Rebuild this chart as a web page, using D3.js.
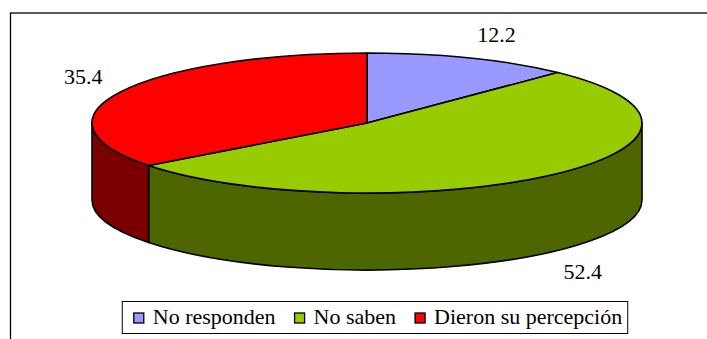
<!DOCTYPE html>
<html>
<head>
<meta charset="utf-8">
<script src="https://cdn.jsdelivr.net/npm/d3@7"></script>
</head>
<body style="margin:0">
<svg id="chart" width="707" height="339" font-family="Liberation Serif, Times New Roman, serif"></svg>
<script>
// Survey answers (percent)
const categories = ["No responden", "No saben", "Dieron su percepción"];
const values = [12.2, 52.4, 35.4];
const topColors = ["#9999FF", "#99CC00", "#FF0000"];
const sideColors = ["#4C4C80", "#4D6600", "#7A0000"];

const FS = 22;
const W = 707, H = 339;
const svg = d3.select("#chart");

// Chart frame (extends past the window on the right and bottom)
svg.append("rect")
  .attr("x", 10.5).attr("y", 13)
  .attr("width", W + 20).attr("height", H + 20)
  .attr("fill", "#fff")
  .attr("stroke", "#000").attr("stroke-width", 1.3);

// Elliptical 3D pie geometry
const cx = 367, cy = 123, rx = 275, ry = 70, depth = 77;
const topPt = a => [cx + rx * Math.sin(a), cy - ry * Math.cos(a)];
const botPt = a => [cx + rx * Math.sin(a), cy - ry * Math.cos(a) + depth];

const pie = d3.pie().sort(null).value(d => d.value);
const arcs = pie(categories.map((c, i) => ({ name: c, value: values[i], i })));

const gSide = svg.append("g");
const gTop = svg.append("g");

// Front walls: visible where the rim faces the viewer (angles between π/2 and 3π/2)
arcs.forEach(d => {
  const a0 = Math.max(d.startAngle, Math.PI / 2);
  const a1 = Math.min(d.endAngle, 3 * Math.PI / 2);
  if (a1 <= a0) return;
  const large = (a1 - a0) > Math.PI ? 1 : 0;
  const [x0, y0] = topPt(a0), [x1, y1] = topPt(a1);
  const [bx0, by0] = botPt(a0), [bx1, by1] = botPt(a1);
  const p = `M${x0},${y0} A${rx},${ry} 0 ${large} 1 ${x1},${y1} L${bx1},${by1} A${rx},${ry} 0 ${large} 0 ${bx0},${by0} Z`;
  gSide.append("path")
    .attr("d", p)
    .attr("fill", sideColors[d.data.i])
    .attr("stroke", "#000").attr("stroke-width", 1.6)
    .attr("stroke-linejoin", "round");
});

// Top faces
arcs.forEach(d => {
  const [x0, y0] = topPt(d.startAngle), [x1, y1] = topPt(d.endAngle);
  const large = (d.endAngle - d.startAngle) > Math.PI ? 1 : 0;
  const p = `M${cx},${cy} L${x0},${y0} A${rx},${ry} 0 ${large} 1 ${x1},${y1} Z`;
  gTop.append("path")
    .attr("d", p)
    .attr("fill", topColors[d.data.i])
    .attr("stroke", "#000").attr("stroke-width", 1.6)
    .attr("stroke-linejoin", "round");
});

// Value labels: the label box corner nearest the rim sits just outside the slice's mid-point
const gLab = svg.append("g");
arcs.forEach(d => {
  const m = (d.startAngle + d.endAngle) / 2;
  const s = Math.sin(m), c = -Math.cos(m);
  const front = c > 0;
  const [ex, ey] = front ? botPt(m) : topPt(m);
  const gx = 20, gy = 17;
  const px = ex + s * gx, py = ey + c * gy;
  const t = gLab.append("text")
    .attr("font-size", FS)
    .attr("fill", "#000")
    .text(d.data.value.toFixed(1));
  const w = t.node().getComputedTextLength(), capH = 14;
  const x = s >= 0 ? px : px - w;
  const baseline = c >= 0 ? py + capH : py;
  t.attr("x", x).attr("y", baseline);
});

// Legend
const legend = svg.append("g");
const box = legend.append("rect")
  .attr("fill", "#fff").attr("stroke", "#000").attr("stroke-width", 1);
let xCur = 0;
categories.forEach((c, i) => {
  const g = legend.append("g");
  g.append("rect")
    .attr("x", xCur).attr("y", -11)
    .attr("width", 10).attr("height", 10)
    .attr("fill", topColors[i]).attr("stroke", "#000").attr("stroke-width", 1.3);
  const t = g.append("text")
    .attr("x", xCur + 19).attr("y", 0)
    .attr("font-size", FS)
    .attr("fill", "#000")
    .text(c);
  const tw = t.node().getComputedTextLength();
  xCur += 19 + tw + 19;
});
const totalW = xCur - 19;
const legX = 378 - totalW / 2, legBase = 324;
legend.attr("transform", `translate(${legX},${legBase})`);
box.attr("x", -11.5).attr("y", -22.5)
  .attr("width", totalW + 17).attr("height", 32);
</script>
</body>
</html>
